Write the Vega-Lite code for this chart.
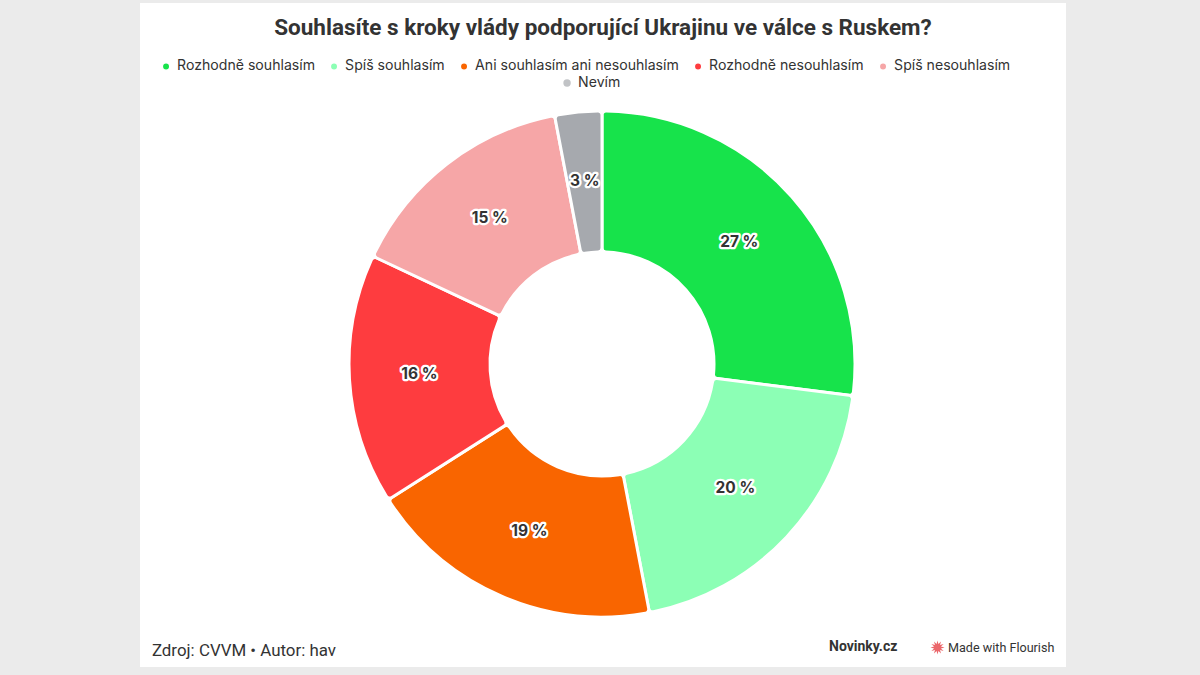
{
  "$schema": "https://vega.github.io/schema/vega-lite/v6.json",
  "autosize": {"type": "fit", "contains": "padding"},
  "width": 1200,
  "height": 675,
  "padding": {"left": 140, "right": 134, "top": 3, "bottom": 8},
  "background": "#ebebeb",
  "view": {"fill": "white", "stroke": null},
  "title": {
    "text": "Souhlasíte s kroky vlády podporující Ukrajinu ve válce s Ruskem?",
    "font": "Roboto",
    "fontSize": 22.5,
    "fontWeight": "bold",
    "color": "#333333",
    "anchor": "middle",
    "offset": -36
  },
  "datasets": {
    "answers": [
      {"n": 1, "odpoved": "Rozhodně souhlasím", "podil": 27, "label": "27 %"},
      {"n": 2, "odpoved": "Spíš souhlasím", "podil": 20, "label": "20 %"},
      {"n": 3, "odpoved": "Ani souhlasím ani nesouhlasím", "podil": 19, "label": "19 %"},
      {"n": 4, "odpoved": "Rozhodně nesouhlasím", "podil": 16, "label": "16 %"},
      {"n": 5, "odpoved": "Spíš nesouhlasím", "podil": 15, "label": "15 %"},
      {"n": 6, "odpoved": "Nevím", "podil": 3, "label": "3 %"}
    ],
    "footer": [
      {"zdroj": "Zdroj: CVVM • Autor: hav", "brand": "Made with Flourish"}
    ]
  },
  "layer": [
    {
      "data": {"name": "answers"},
      "mark": {"type": "arc", "outerRadius": 253, "innerRadius": 112, "stroke": "white", "strokeWidth": 3, "cornerRadius": 4, "yOffset": 29, "xOffset": -1},
      "encoding": {
        "theta": {"field": "podil", "type": "quantitative", "stack": true},
        "order": {"field": "n", "type": "quantitative"},
        "color": {
          "field": "odpoved",
          "type": "nominal",
          "scale": {
            "domain": ["Rozhodně souhlasím", "Spíš souhlasím", "Ani souhlasím ani nesouhlasím", "Rozhodně nesouhlasím", "Spíš nesouhlasím", "Nevím"],
            "range": ["#17e34b", "#8cffb5", "#f96500", "#fe3c3f", "#f6a6a7", "#a6a9ae"]
          },
          "legend": {
            "values": ["Rozhodně souhlasím", "Spíš souhlasím", "Ani souhlasím ani nesouhlasím", "Rozhodně nesouhlasím", "Spíš nesouhlasím"],
            "orient": "none",
            "legendX": 19,
            "legendY": 56,
            "direction": "horizontal",
            "title": null,
            "symbolType": "circle",
            "symbolSize": 55,
            "labelFont": "Inter",
            "labelFontSize": 14.1,
            "labelColor": "#333333",
            "labelOffset": 4,
            "columnPadding": 12,
            "labelLimit": 400
          }
        }
      }
    },
    {
      "data": {"name": "answers"},
      "mark": {"type": "text", "radius": 183, "font": "Inter", "fontSize": 15.5, "fontWeight": "bold", "stroke": "white", "strokeWidth": 4.5, "strokeJoin": "round", "fill": "white", "yOffset": 28, "xOffset": -1},
      "encoding": {
        "theta": {"field": "podil", "type": "quantitative", "stack": true},
        "order": {"field": "n", "type": "quantitative"},
        "text": {"field": "label", "type": "nominal"}
      }
    },
    {
      "data": {"name": "answers"},
      "mark": {"type": "text", "radius": 183, "font": "Inter", "fontSize": 15.5, "fontWeight": "bold", "fill": "#333333", "yOffset": 28, "xOffset": -1},
      "encoding": {
        "theta": {"field": "podil", "type": "quantitative", "stack": true},
        "order": {"field": "n", "type": "quantitative"},
        "text": {"field": "label", "type": "nominal"}
      }
    },
    {
      "data": {"name": "answers"},
      "transform": [{"filter": "datum.odpoved === 'Nevím'"}],
      "mark": {"type": "point", "filled": true, "size": 0, "strokeWidth": 0},
      "encoding": {
        "color": {
          "field": "odpoved",
          "type": "nominal",
          "scale": {"domain": ["Nevím"], "range": ["#a6a9ae"]},
          "legend": {
            "orient": "none",
            "legendX": 420,
            "legendY": 73,
            "title": null,
            "symbolType": "circle",
            "symbolSize": 55,
            "labelFont": "Inter",
            "labelFontSize": 14.1,
            "labelColor": "#333333",
            "labelOffset": 4
          }
        }
      }
    },
    {
      "data": {"name": "footer"},
      "mark": {"type": "point", "filled": true, "size": 0, "strokeWidth": 0, "color": "#e3262c"},
      "encoding": {
        "strokeDash": {
          "field": "zdroj",
          "type": "nominal",
          "scale": {"range": [[1, 0]]},
          "legend": {
            "orient": "none",
            "legendX": -5,
            "legendY": 640,
            "title": null,
            "symbolSize": 0,
            "symbolOpacity": 0,
            "labelOffset": 0,
            "labelFont": "Roboto",
            "labelFontSize": 16.9,
            "labelColor": "#333333",
            "labelLimit": 400
          }
        },
        "shape": {
          "field": "brand",
          "type": "nominal",
          "scale": {"range": ["M0,-1L0.129,-0.483L0.5,-0.866L0.354,-0.354L0.866,-0.5L0.483,-0.129L1,0L0.483,0.129L0.866,0.5L0.354,0.354L0.5,0.866L0.129,0.483L0,1L-0.129,0.483L-0.5,0.866L-0.354,0.354L-0.866,0.5L-0.483,0.129L-1,0L-0.483,-0.129L-0.866,-0.5L-0.354,-0.354L-0.5,-0.866L-0.129,-0.483Z"]},
          "legend": {
            "orient": "none",
            "legendX": 689,
            "legendY": 637,
            "title": "Novinky.cz",
            "titleOrient": "left",
            "titleFont": "Roboto",
            "titleFontSize": 14,
            "titleFontWeight": "bold",
            "titleColor": "#333333",
            "titlePadding": 32,
            "symbolSize": 200,
            "symbolFillColor": "#e3262c",
            "symbolStrokeWidth": 0,
            "labelOffset": 3,
            "labelFont": "Roboto",
            "labelFontSize": 12.6,
            "labelColor": "#333333"
          }
        }
      }
    }
  ],
  "resolve": {"scale": {"color": "independent"}, "legend": {"color": "independent"}},
  "config": {
    "view": {"fill": "white", "stroke": null},
    "legend": {"padding": 0}
  }
}
